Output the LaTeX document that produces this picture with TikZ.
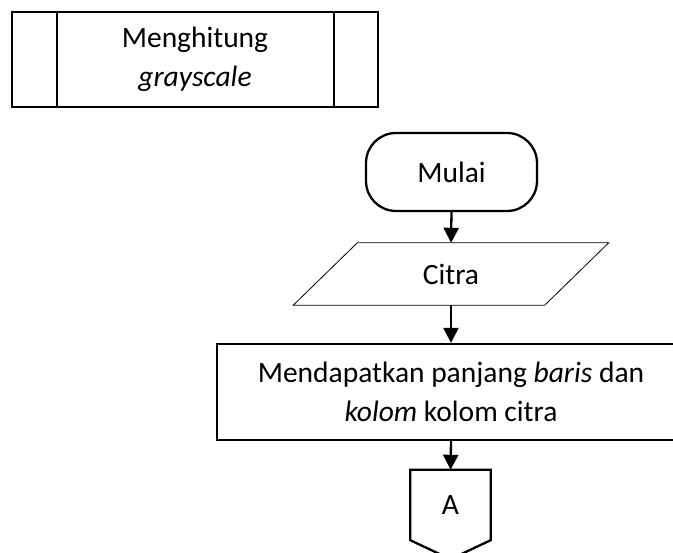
\documentclass[tikz,border=0pt]{standalone}
\usepackage{fontspec}
\setmainfont{Carlito}
\usetikzlibrary{arrows.meta,calc}
\begin{document}
\begin{tikzpicture}[x=1pt,y=-1pt,
  every node/.style={font=\fontsize{29.5}{39.5}\selectfont},
  box/.style={draw, line width=2.3pt, inner sep=0pt, align=center},
  plain/.style={inner sep=0pt, align=center},
  flow/.style={line width=2.3pt, -{Triangle[length=15pt,width=15pt]}}]
\useasboundingbox (0,0) rectangle (673,553);
\clip (0,0) rectangle (673,553);

% predefined process (subroutine) box
\node[box, minimum width=366pt, minimum height=95pt] (sub) at (195,59.5)
  {Menghitung\\\textit{grayscale}};
\draw[line width=2.3pt] ($(sub.north west)+(46,0)$) -- ($(sub.south west)+(46,0)$)
  ($(sub.north east)+(-45,0)$) -- ($(sub.south east)+(-45,0)$);

% start terminal
\node[box, rounded corners=30pt, minimum width=171pt, minimum height=78pt] (start) at (451.5,172) {Mulai};

% input parallelogram
\node[plain, minimum width=251pt, minimum height=62pt] (input) at (451,274) {Citra};
\draw[line width=0.8pt] ($(input.south west)+(-32,0)$) -- ($(input.north west)+(32,0)$)
  -- ($(input.north east)+(32,0)$) -- ($(input.south east)+(-32,0)$) -- cycle;

% process box
\node[box, minimum width=468pt, minimum height=96pt] (proc) at (451,392)
  {Mendapatkan panjang \textit{baris} dan\\\textit{kolom} kolom citra};

% off-page connector
\node[plain, minimum width=80pt, minimum height=70pt] (conn) at (450.5,505) {A};
\draw[line width=2.3pt, line join=miter] (conn.south west) -- (conn.north west) -- (conn.north east)
  -- (conn.south east) -- ($(conn.south)+(0,19)$) -- cycle;

% connectors
\draw[flow] (start.south) -- (input.north);
\draw[flow] (input.south) -- (proc.north);
\draw[flow] (proc.south) -- (conn.north);
\end{tikzpicture}
\end{document}
